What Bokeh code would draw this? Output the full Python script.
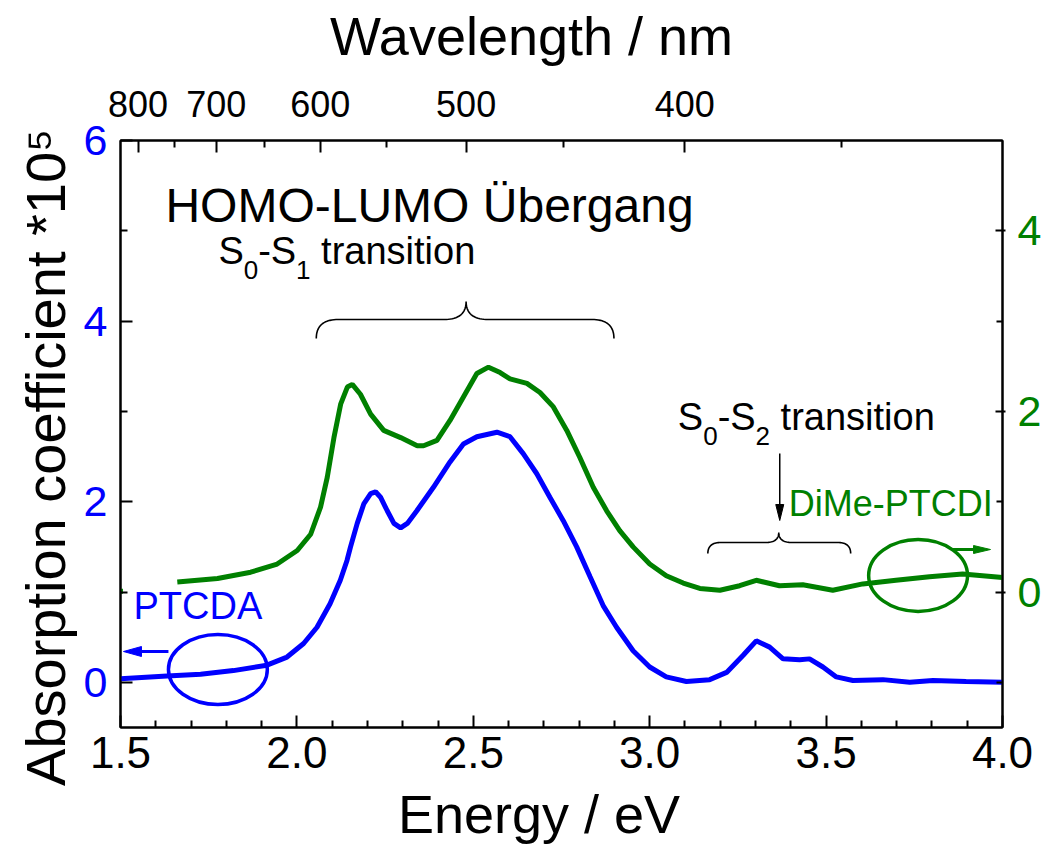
import numpy as np
from bokeh.plotting import figure
from bokeh.models import (Range1d, LinearAxis, FixedTicker, PrintfTickFormatter,
                          CustomJSTickFormatter, Label)
from bokeh.embed import file_html
from bokeh.resources import INLINE

# ---------------- data ----------------
energy_ptcda = [1.500, 1.632, 1.727, 1.820, 1.915, 1.972, 2.019, 2.057, 2.094, 2.123,
                2.142, 2.152, 2.171, 2.190, 2.209, 2.223, 2.237, 2.256, 2.275, 2.294,
                2.313, 2.340, 2.387, 2.434, 2.472, 2.510, 2.567, 2.604, 2.642, 2.680,
                2.717, 2.755, 2.793, 2.831, 2.868, 2.906, 2.953, 3.000, 3.047, 3.104,
                3.170, 3.218, 3.265, 3.302, 3.340, 3.378, 3.425, 3.453, 3.491, 3.529,
                3.576, 3.661, 3.737, 3.803, 3.897, 4.000]
abs_ptcda = [0.04, 0.07, 0.09, 0.13, 0.19, 0.28, 0.43, 0.61, 0.87, 1.13,
             1.35, 1.50, 1.76, 1.98, 2.09, 2.11, 2.05, 1.90, 1.76, 1.71,
             1.76, 1.90, 2.16, 2.44, 2.64, 2.72, 2.77, 2.72, 2.53, 2.31,
             2.05, 1.79, 1.50, 1.17, 0.85, 0.61, 0.35, 0.17, 0.06, 0.01,
             0.03, 0.11, 0.30, 0.46, 0.39, 0.26, 0.25, 0.26, 0.17, 0.06,
             0.02, 0.03, 0.00, 0.02, 0.01, 0.00]

energy_dime = [1.500, 1.507, np.nan, 1.661, 1.775, 1.869, 1.944, 2.001, 2.039, 2.067,
               2.086, 2.105, 2.124, 2.143, 2.157, 2.180, 2.209, 2.246, 2.294, 2.341,
               2.359, 2.397, 2.434, 2.472, 2.510, 2.543, 2.576, 2.604, 2.652, 2.689,
               2.727, 2.765, 2.802, 2.840, 2.878, 2.915, 2.953, 3.000, 3.047, 3.095,
               3.142, 3.199, 3.255, 3.302, 3.368, 3.434, 3.519, 3.604, 3.698, 3.793,
               3.887, 4.000]
abs_dime = [0.01, 0.01, np.nan, 0.11, 0.15, 0.22, 0.31, 0.46, 0.64, 0.94,
            1.27, 1.71, 2.08, 2.27, 2.30, 2.19, 1.97, 1.79, 1.71, 1.62,
            1.62, 1.68, 1.90, 2.16, 2.42, 2.49, 2.43, 2.36, 2.31, 2.21,
            2.05, 1.79, 1.49, 1.16, 0.90, 0.68, 0.50, 0.31, 0.18, 0.10,
            0.04, 0.02, 0.07, 0.13, 0.07, 0.08, 0.02, 0.09, 0.13, 0.17,
            0.20, 0.16]

x_major = [1.5, 2.0, 2.5, 3.0, 3.5, 4.0]
x_minor = [1.6, 1.7, 1.8, 1.9, 2.1, 2.2, 2.3, 2.4, 2.6, 2.7, 2.8, 2.9,
           3.1, 3.2, 3.3, 3.4, 3.6, 3.7, 3.8, 3.9]
left_major = [0, 2, 4, 6]
left_minor = [1, 3, 5]
right_major = [0, 2, 4]
right_minor = [-1, 1, 3]
wl_major = [800, 700, 600, 500, 400]
wl_minor = [750, 650, 550, 450, 350]
HC = 1239.84  # eV*nm

BLUE = "#0000FF"
GREEN = "#008000"
FONT = "Liberation Sans"
NBSP = "\u00a0"

# ---------------- geometry ----------------
W, H = 1044, 846
FL, FR, FT, FB = 120, 1003, 140, 727
X0, X1 = 1.5, 4.0
YL0, YL1 = -0.5, 6.0
YR0, YR1 = -1.5, 5.0


def fx(px):
    return X0 + (px - FL) / (FR - FL) * (X1 - X0)


def fy(py):
    return YL1 - (py - FT) / (FB - FT) * (YL1 - YL0)


p = figure(width=W, height=H, x_range=Range1d(X0, X1), y_range=Range1d(YL0, YL1),
           output_backend="svg", toolbar_location=None,
           min_border_left=FL, min_border_right=W - FR,
           min_border_top=FT, min_border_bottom=H - FB)
p.xgrid.visible = False
p.ygrid.visible = False
p.outline_line_color = "black"
p.outline_line_width = 2
p.background_fill_color = "white"
p.border_fill_color = "white"

p.extra_y_ranges = {"right": Range1d(YR0, YR1)}
p.add_layout(LinearAxis(y_range_name="right"), "right")
p.add_layout(LinearAxis(), "above")

bottom_axis = p.below[0]
left_axis = p.left[0]
right_axis = p.right[0]
top_axis = p.above[0]


def style(ax, color, size, standoff, tin=12, mtin=7, tout=0, mtout=0, title_size="54px"):
    ax.axis_line_color = "black"
    ax.axis_line_width = 2
    ax.major_tick_line_color = "black"
    ax.major_tick_line_width = 2
    ax.minor_tick_line_color = "black"
    ax.minor_tick_line_width = 2
    ax.major_tick_in = tin
    ax.major_tick_out = tout
    ax.minor_tick_in = mtin
    ax.minor_tick_out = mtout
    ax.major_label_text_color = color
    ax.major_label_text_font = FONT
    ax.major_label_text_font_size = size
    ax.major_label_standoff = standoff
    ax.axis_label_text_font = FONT
    ax.axis_label_text_font_style = "normal"
    ax.axis_label_text_color = "black"
    ax.axis_label_text_font_size = title_size


bottom_axis.ticker = FixedTicker(ticks=x_major, minor_ticks=x_minor)
bottom_axis.formatter = PrintfTickFormatter(format="%.1f")
style(bottom_axis, "black", "44px", 9)
bottom_axis.axis_label = "Energy / eV" + NBSP * 3
bottom_axis.axis_label_standoff = 13

left_axis.ticker = FixedTicker(ticks=left_major, minor_ticks=left_minor)
style(left_axis, BLUE, "43px", 13, title_size="56px")
left_axis.axis_label = "Absorption coefficient *10\u2075" + NBSP * 3
left_axis.axis_label_standoff = 4

right_axis.ticker = FixedTicker(ticks=right_major, minor_ticks=right_minor)
style(right_axis, GREEN, "43px", 12, tin=7, mtin=6, tout=3)

top_axis.ticker = FixedTicker(ticks=[HC / w for w in wl_major],
                              minor_ticks=[HC / w for w in wl_minor])
top_axis.formatter = CustomJSTickFormatter(code="return Math.round(%f / tick).toString();" % HC)
style(top_axis, "black", "36px", 24)
top_axis.axis_label = "Wavelength / nm" + NBSP * 4
top_axis.axis_label_standoff = 22

# ---------------- curves ----------------
p.line(energy_ptcda, abs_ptcda, line_color=BLUE, line_width=5)
p.line(energy_dime, abs_dime, y_range_name="right", line_color=GREEN, line_width=5)


# ---------------- annotations ----------------
def to_data(pxs, pys):
    return [fx(a) for a in pxs], [fy(b) for b in pys]


def brace(x0, x1, xc, y_end, y_mid, y_tip, r, rc):
    pts = []

    def quad(pa, pc, pb, n=20):
        t = np.linspace(0, 1, n)
        return [((1 - s) ** 2 * pa[0] + 2 * (1 - s) * s * pc[0] + s ** 2 * pb[0],
                 (1 - s) ** 2 * pa[1] + 2 * (1 - s) * s * pc[1] + s ** 2 * pb[1]) for s in t]
    pts += quad((x0, y_end), (x0, y_mid), (x0 + r, y_mid))
    pts += quad((xc - rc, y_mid), (xc, y_mid), (xc, y_tip))
    pts += quad((xc, y_tip), (xc, y_mid), (xc + rc, y_mid))
    pts += quad((x1 - r, y_mid), (x1, y_mid), (x1, y_end))
    xs, ys = zip(*pts)
    return to_data(xs, ys)


bx, by = brace(316, 614, 466, 338, 319, 301, 22, 22)
p.line(bx, by, line_color="black", line_width=1.6)
bx, by = brace(708, 851, 779, 553, 542, 532, 13, 13)
p.line(bx, by, line_color="black", line_width=1.6)


def arrow(x_from, y_from, x_tip, y_tip, L, w, color, lw):
    d = np.array([x_tip - x_from, y_tip - y_from], float)
    d /= np.hypot(*d)
    n = np.array([-d[1], d[0]])
    tip = np.array([x_tip, y_tip], float)
    base = tip - L * d
    p.line(*to_data([x_from, base[0] + 0.3 * L * d[0]], [y_from, base[1] + 0.3 * L * d[1]]),
           line_color=color, line_width=lw)
    c1 = base + w * n
    c2 = base - w * n
    hx, hy = to_data([tip[0], c1[0], c2[0]], [tip[1], c1[1], c2[1]])
    p.patch(hx, hy, fill_color=color, line_color=color, line_width=1)


arrow(168, 651, 123, 651, 18, 5, BLUE, 3)
arrow(953, 549, 991, 549, 17, 4, GREEN, 3)
arrow(780, 453, 780, 520, 16, 4, "black", 1.5)

# ellipses marking which axis each curve belongs to
p.ellipse(x=[fx(217.5)], y=[fy(669)], width=[99 / (FR - FL) * (X1 - X0)],
          height=[70 / (FB - FT) * (YL1 - YL0)], fill_color=None,
          line_color=BLUE, line_width=3.5)
p.ellipse(x=[fx(918.5)], y=[fy(575)], width=[99 / (FR - FL) * (X1 - X0)],
          height=[72 / (FB - FT) * (YL1 - YL0)], fill_color=None,
          line_color=GREEN, line_width=3.5)

BASE_FIX = 0.38  # empirical shift so that the glyph baseline lands on py


def label(text, px, py, size, color="black", align="left"):
    lab = Label(x=fx(px), y=fy(py - BASE_FIX * size), text=text, text_font=FONT,
                text_font_size="%dpx" % size, text_color=color, text_align=align,
                text_baseline="alphabetic")
    p.add_layout(lab)


def sub_label(parts, px, py, size, sub_size, sub_drop, color="black"):
    # parts: list of (text, is_sub, advance_px_after)
    x = px
    for text, is_sub, adv in parts:
        s = sub_size if is_sub else size
        label(text, x, py + (sub_drop if is_sub else 0), s, color)
        x += adv


F, FS = 38, 26
SP = 0.278 * F
sub_label([("S", False, 0.667 * F), ("0", True, 0.556 * FS), ("-S", False, 1.0 * F),
           ("1", True, 0.556 * FS + SP), ("transition", False, 0)], 218, 265, F, FS, 14)
sub_label([("S", False, 0.667 * F), ("0", True, 0.556 * FS), ("-S", False, 1.0 * F),
           ("2", True, 0.556 * FS + SP), ("transition", False, 0)], 678, 431, F, FS, 14)
label("HOMO-LUMO Übergang", 165, 223, 48)
label("PTCDA", 133, 620, 38, BLUE)
label("DiMe-PTCDI", 789, 517, 36, GREEN)

open("out.html", "w").write(file_html(p, INLINE))
